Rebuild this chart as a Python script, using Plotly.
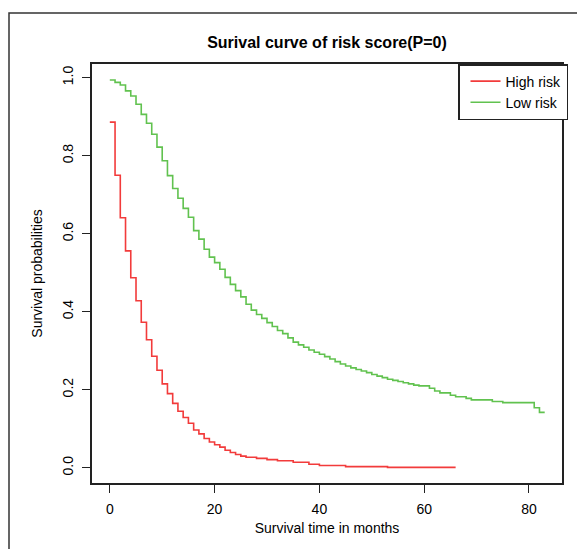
import plotly.graph_objects as go

# ---- data ----
high_time = [0, 1, 2, 3, 4, 5, 6, 7, 8, 9, 10, 11, 12, 13, 14, 15, 16, 17, 18, 19,
             20, 21, 22, 23, 24, 25, 26, 28, 30, 32, 35, 38, 40, 45, 53, 66]
high_surv = [0.886, 0.750, 0.641, 0.556, 0.487, 0.428, 0.373, 0.328, 0.286, 0.250,
             0.215, 0.190, 0.165, 0.145, 0.129, 0.114, 0.097, 0.087, 0.075, 0.066,
             0.059, 0.053, 0.045, 0.039, 0.034, 0.030, 0.027, 0.024, 0.021, 0.018,
             0.014, 0.009, 0.006, 0.003, 0.001, 0.001]

low_time = [0, 1, 2, 3, 4, 5, 6, 7, 8, 9, 10, 11, 12, 13, 14, 15, 16, 17, 18, 19,
            20, 21, 22, 23, 24, 25, 26, 27, 28, 29, 30, 31, 32, 33, 34, 35, 36, 37,
            38, 39, 40, 41, 42, 43, 44, 45, 46, 47, 48, 49, 50, 51, 52, 53, 54, 55,
            56, 57, 58, 59, 61, 62, 63, 65, 66, 68, 69, 73, 75, 81, 82, 83]
low_surv = [0.994, 0.988, 0.981, 0.966, 0.953, 0.932, 0.906, 0.883, 0.855, 0.822,
            0.787, 0.749, 0.716, 0.691, 0.665, 0.642, 0.608, 0.586, 0.560, 0.540,
            0.526, 0.509, 0.488, 0.470, 0.454, 0.438, 0.419, 0.404, 0.393, 0.383,
            0.372, 0.362, 0.352, 0.344, 0.333, 0.322, 0.315, 0.309, 0.302, 0.296,
            0.291, 0.285, 0.279, 0.272, 0.266, 0.261, 0.256, 0.252, 0.248, 0.244,
            0.239, 0.235, 0.231, 0.227, 0.224, 0.221, 0.218, 0.215, 0.212, 0.210,
            0.204, 0.197, 0.192, 0.186, 0.182, 0.178, 0.174, 0.170, 0.167, 0.154,
            0.142, 0.142]

x_ticks = [0, 20, 40, 60, 80]
y_ticks = [0.0, 0.2, 0.4, 0.6, 0.8, 1.0]
y_tick_labels = ["0.0", "0.2", "0.4", "0.6", "0.8", "1.0"]

title_text = "Surival curve of risk score(P=0)"
x_title = "Survival time in months"
y_title = "Survival probabilities"

FONT = "Liberation Sans, Arial, Helvetica, sans-serif"

fig = go.Figure()
fig.add_trace(go.Scatter(x=high_time, y=high_surv, mode="lines", name="High risk",
                         line=dict(color="#F23B3B", width=1.6, shape="hv")))
fig.add_trace(go.Scatter(x=low_time, y=low_surv, mode="lines", name="Low risk",
                         line=dict(color="#61C24F", width=1.6, shape="hv")))

# page has an 8px body margin, so the figure is 577x541 placed at (8, 8)
OFF = 8
W, H = 585 - OFF, 549 - OFF
L, R, T, B = 92 - OFF, 23, 64 - OFF, 66
pw, ph = W - L - R, H - T - B

# outer image frame (in paper coordinates)
fx0 = (9 - OFF - L) / pw
fx1 = (583 - OFF - L) / pw
fy1 = (H - B - (13 - OFF)) / ph
fy0 = (H - B - 600) / ph

fig.update_layout(
    width=W, height=H,
    margin=dict(l=L, r=R, t=T, b=B),
    paper_bgcolor="white", plot_bgcolor="white",
    font=dict(family=FONT, size=14, color="black"),
    title=dict(text="<b>" + title_text + "</b>", x=(L + pw / 2) / W, xanchor="center",
               y=1 - (42 - OFF) / H, yanchor="middle", font=dict(size=16, family=FONT)),
    showlegend=True,
    legend=dict(x=1 + 6 / pw, y=1, xanchor="right", yanchor="top", bgcolor="white",
                bordercolor="#222", borderwidth=1.5, font=dict(size=14, family=FONT),
                indentation=6, tracegroupgap=0, itemwidth=30),
    shapes=[dict(type="rect", xref="paper", yref="paper", x0=fx0, x1=fx1, y0=fy0, y1=fy1,
                 line=dict(color="#333", width=1.5), layer="below")],
)

fig.update_xaxes(range=[-3.4, 86.3], tickmode="array", tickvals=x_ticks,
                 showgrid=False, zeroline=False, showline=True, mirror=True,
                 linecolor="#222", linewidth=1.5, ticks="outside", ticklen=8,
                 tickcolor="#222", tickwidth=1.2, ticklabelstandoff=4,
                 tickfont=dict(size=14),
                 title=dict(text=x_title, font=dict(size=14), standoff=8))
fig.update_yaxes(range=[-0.039, 1.035], tickmode="array", tickvals=y_ticks,
                 ticktext=y_tick_labels, tickangle=-90,
                 showgrid=False, zeroline=False, showline=True, mirror=True,
                 linecolor="#222", linewidth=1.5, ticks="outside", ticklen=8,
                 tickcolor="#222", tickwidth=1.2, ticklabelstandoff=4,
                 tickfont=dict(size=14),
                 title=dict(text=y_title, font=dict(size=14), standoff=14))

fig.write_html("out.html")
